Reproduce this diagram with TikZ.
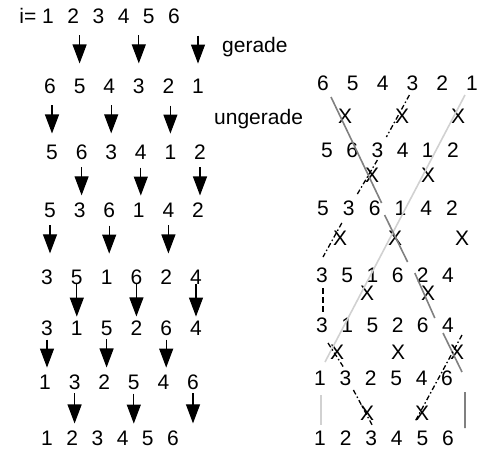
\documentclass[tikz,border=0pt]{standalone}
\usepackage{fontspec}
\setmainfont{Liberation Sans}
\usepackage{tikz}
\usetikzlibrary{arrows.meta,calc}

% one row of digits, nodes #1-1 ... #1-6
\newcommand{\numrow}[5]{\foreach \d [count=\c] in {#5} \node[num] (#1-\c) at ({#2+(\c-1)*#3},#4) {\d};}
% one row of X marks
\newcommand{\xrow}[3]{\foreach \xx [count=\c] in {#3} \node[num] (#1-\c) at (\xx,#2) {X};}
% swap arrows onto row #2, x taken from row #1
\newcommand{\swaps}[5]{\foreach \c in {#3} \draw[arr] ($(#1-\c |- #2-\c.north)+(0,-#4)$) -- ($(#1-\c |- #2-\c.north)+(0,-#5)$);}

\begin{document}
\begin{tikzpicture}[x=1pt, y=-1pt,
  num/.style={inner sep=0pt, font=\fontsize{21}{24}\selectfont},
  lbl/.style={inner sep=0pt, anchor=base west, font=\fontsize{21}{24}\selectfont},
  arr/.style={-{Triangle[width=14pt,length=19pt]}, line width=1.1pt},
  dark/.style={draw=black!50, line width=1.6pt},
  light/.style={draw=black!18, line width=1.6pt},
  dashdot/.style={draw=black, line width=1.3pt, dash pattern=on 5pt off 2.5pt on 1.5pt off 2.5pt},
  vdash/.style={draw=black, line width=2.4pt, dash pattern=on 6pt off 3pt},
]
\useasboundingbox (0,0) rectangle (482,450);

% left: the sorting steps
\node[num, anchor=base east] (ilabel) at (36.5,23) {i=};
\numrow{L0}{48}{25.2}{16}{1,2,3,4,5,6}
\numrow{L1}{50}{29.6}{86}{6,5,4,3,2,1}
\numrow{L2}{52}{29.6}{152}{5,6,3,4,1,2}
\numrow{L3}{50}{29.6}{210}{5,3,6,1,4,2}
\numrow{L4}{47}{29.8}{277}{3,5,1,6,2,4}
\numrow{L5}{47}{29.8}{328}{3,1,5,2,6,4}
\numrow{L6}{45}{29.6}{382}{1,3,2,5,4,6}
\numrow{L7}{47}{25.2}{438}{1,2,3,4,5,6}

\swaps{L1}{L1}{2,4,6}{43}{15}
\swaps{L2}{L2}{1,3,5}{39}{11}
\swaps{L2}{L3}{2,4,6}{35}{7}
\swaps{L3}{L4}{1,3,5}{44}{16}
\swaps{L5}{L5}{2,4,6}{37}{4}
\swaps{L5}{L6}{1,3,5}{35}{7}
\swaps{L6}{L7}{2,4,6}{37}{7}

\node[lbl] (gerade) at (222,52) {gerade};
\node[lbl] (ungerade) at (214,124) {ungerade};

% right: the network
\numrow{R1}{323}{29.8}{83}{6,5,4,3,2,1}
\numrow{R2}{327}{25.2}{150}{5,6,3,4,1,2}
\numrow{R3}{323}{25.8}{208}{5,3,6,1,4,2}
\numrow{R4}{322}{25.2}{275}{3,5,1,6,2,4}
\numrow{R5}{322}{25.2}{325}{3,1,5,2,6,4}
\numrow{R6}{320}{25.4}{378}{1,3,2,5,4,6}
\numrow{R7}{320}{25.6}{438}{1,2,3,4,5,6}

\xrow{X1}{116}{345,402,458}
\xrow{X2}{175}{372,428}
\xrow{X3}{238}{340,395,462}
\xrow{X4}{293}{367,428}
\xrow{X5}{352}{337,398,457}
\xrow{X6}{413}{367,422}

% path of 1
\draw[light] ($(R1-6)+(-7,12)$) -- ($(R6-1)+(5,-16)$);
\draw[light] ($(R6-1)+(1,17)$) -- ($(R7-1)+(1,-13)$);
% path of 6
\draw[dark] ($(R1-1)+(8,14)$) -- ($(R3-3)+(7,-5)$);
\draw[dark] ($(R3-3)+(10,7)$) -- ($(R4-4)+(10,-13)$);
\draw[dark] ($(R4-5)+(-8,-2)$) -- ($(R5-5)+(12,-7)$);
\draw[dark] ($(R5-6)+(-5,8)$) -- ($(R6-6)+(15,-6)$);
\draw[dark] ($(R6-6)+(18,14)$) -- ($(R7-6)+(17,-10)$);
% path of 3
\draw[dashdot] ($(R1-4)+(-3,12)$) -- ($(R2-3)+(9,-13)$);
\draw[dashdot] ($(R2-3)+(0,10)$) -- ($(R3-2)+(8,-13)$);
\draw[dashdot] ($(R3-2)+(-7,15)$) -- ($(R4-1)+(1,-18)$);
\draw[vdash] ($(R4-1)+(1,13)$) -- ($(R5-1)+(1,-13)$);
\draw[dashdot] ($(R5-1)+(6,18)$) -- ($(R6-2)+(-2,-11)$);
\draw[dashdot] ($(R6-2)+(8,12)$) -- ($(R7-3)+(2,-11)$);
% path of 4
\draw[dashdot] ($(R5-6)+(14,10)$) -- ($(R7-4)+(18,-16)$);
\end{tikzpicture}
\end{document}
